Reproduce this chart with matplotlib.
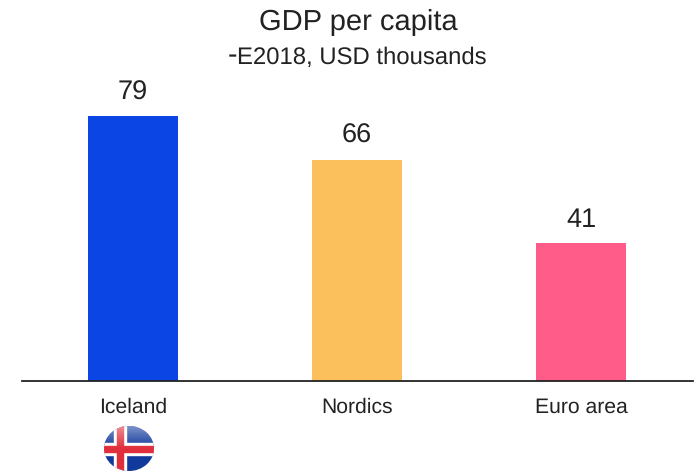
import numpy as np
import matplotlib.pyplot as plt
from matplotlib.patches import Ellipse, Rectangle

plt.rcParams['font.family'] = ['Liberation Sans', 'DejaVu Sans']
plt.rcParams['text.hinting'] = 'no_hinting'

regions = ['Iceland', 'Nordics', 'Euro area']
gdp = [79, 66, 41]
colors = ['#0b45e3', '#fbc05c', '#ff5c8a']

W, H = 697, 471
fig = plt.figure(figsize=(W / 100, H / 100), dpi=100)
ax = fig.add_axes([22 / W, 1 - 381 / H, 671 / W, 381 / H])
ax.set_xlim(22, 693)
ax.set_ylim(0, 381 / (265 / 79))
ax.axis('off')

xpos = [133, 357, 581]
ax.bar(xpos, gdp, width=90, color=colors)
ax.axhline(0, color='#222222', lw=1.3, clip_on=False)

for x, v, name in zip(xpos, gdp, regions):
    ax.annotate(str(v), (x, v), xytext=(0, 17), textcoords='offset points',
                ha='center', va='center', fontsize=19.5, color='#222222')
    ax.annotate(name, (x, 0), xytext=(0, -19), textcoords='offset points',
                ha='center', va='center', fontsize=15.2, color='#222222')

fig.text(358 / W, 1 - 22 / H, 'GDP per capita', ha='center', va='center',
         fontsize=21, color='#222222')
fig.text(228 / W, 1 - 56 / H, '-', ha='left', va='center', fontsize=20.5, color='#222222')
fig.text(237 / W, 1 - 58 / H, 'E2018, USD thousands', ha='left', va='center',
         fontsize=17.2, color='#222222')

# round flag badge under the first category
flag = fig.add_axes([104 / W, 0, 50 / W, 45 / H])
flag.set_xlim(0, 50)
flag.set_ylim(0, 45)
flag.axis('off')
clip = Ellipse((25, 22.5), 50, 45, transform=flag.transData)
parts = [
    Rectangle((0, 0), 50, 45, color='#123a9c'),
    Rectangle((0, 16), 50, 12, color='white'),
    Rectangle((10, 0), 12, 45, color='white'),
    Rectangle((0, 19), 50, 6, color='#df2f3c'),
    Rectangle((13, 0), 6, 45, color='#df2f3c'),
]
for p in parts:
    flag.add_patch(p)
    p.set_clip_path(clip)

# glossy highlight over the top half of the badge
shine = np.ones((64, 2, 4))
shine[:, :, 3] = np.clip(np.linspace(0.45, -0.05, 64), 0, 1)[:, None]
im = flag.imshow(shine, extent=(0, 50, 20, 45), aspect='auto', zorder=3)
im.set_clip_path(clip)
flag.set_xlim(0, 50)
flag.set_ylim(0, 45)

fig.savefig('out.png', dpi=100)
